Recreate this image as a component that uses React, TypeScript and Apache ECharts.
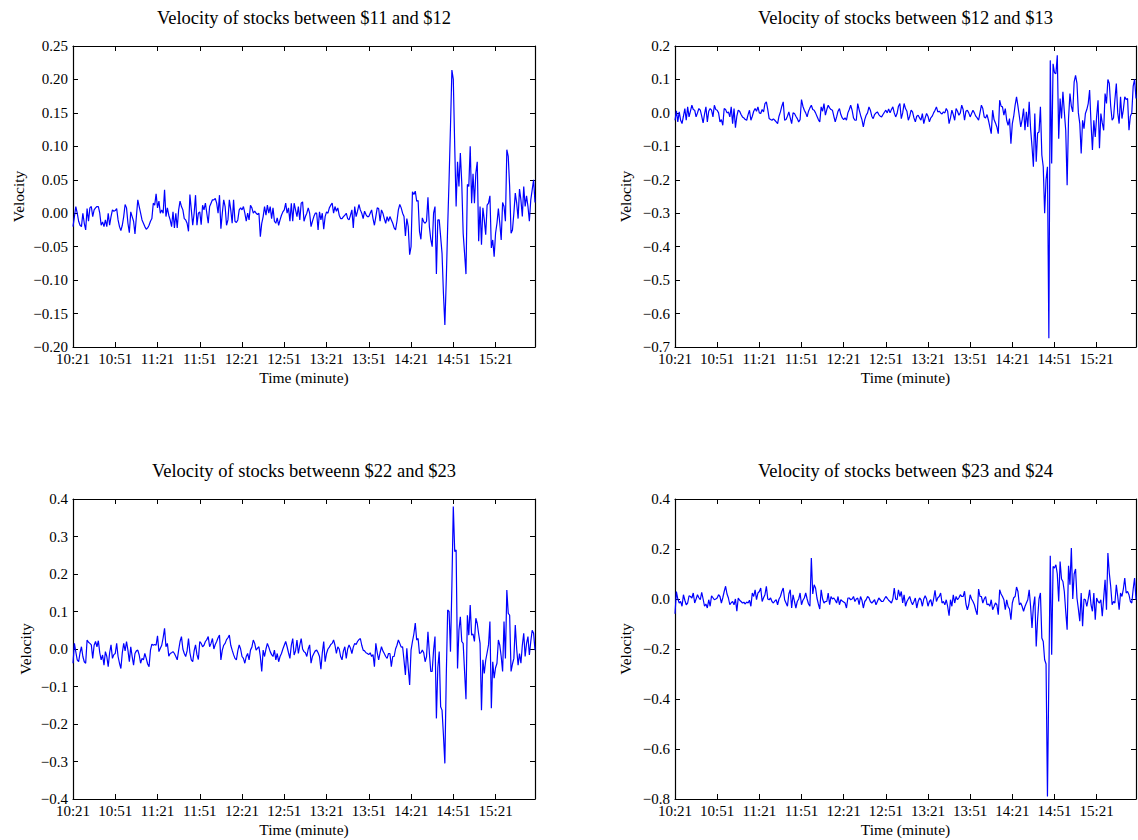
import React, { useEffect, useRef } from "react";
import * as echarts from "echarts";

// Minute-by-minute velocity readings, starting at 10:21.
const timeTicks = ["10:21", "10:51", "11:21", "11:51", "12:21", "12:51", "13:21", "13:51", "14:21", "14:51", "15:21"];
const minutesPerTick = 30;

const velocity11to12 = [
  -0.02, -0.005, 0.01, 0.0, -0.012, -0.018, -0.02, 0.0, -0.015, -0.025,
  0.007, -0.012, 0.008, 0.01, -0.005, 0.005, 0.008, 0.01, 0.01, 0.0,
  -0.018, -0.013, -0.02, -0.01, -0.02, 0.0, -0.018, -0.005, 0.005, 0.003,
  0.004, 0.007, -0.01, -0.02, -0.026, -0.018, -0.005, 0.013, 0.008, -0.015,
  -0.029, 0.002, -0.005, -0.012, -0.031, -0.005, 0.02, 0.01, 0.0, -0.01,
  -0.015, -0.02, -0.024, -0.022, -0.018, -0.012, -0.008, 0.015, 0.012, 0.029,
  0.008, 0.018, 0.0, 0.005, 0.0, 0.035, -0.005, 0.008, -0.003, -0.01,
  -0.02, 0.002, -0.022, 0.0, -0.022, 0.005, 0.018, 0.01, 0.005, -0.008,
  -0.01, -0.015, -0.027, 0.028, 0.005, -0.018, 0.0, 0.027, -0.018, 0.0,
  0.002, -0.017, 0.012, 0.005, 0.015, 0.0, -0.015, 0.01, 0.015, 0.02,
  0.02, 0.022, 0.015, 0.0, 0.027, -0.023, 0.0, 0.02, 0.01, -0.018,
  -0.01, 0.02, 0.005, -0.015, 0.02, -0.012, -0.014, -0.01, 0.005, 0.008,
  0.005, 0.01, 0.0, -0.012, 0.0, -0.01, 0.012, 0.008, 0.0, 0.003,
  0.0, -0.002, 0.0, -0.035, -0.015, -0.005, 0.01, -0.003, 0.012, 0.0,
  0.01, -0.008, 0.008, -0.012, -0.015, -0.007, -0.018, -0.01, -0.003, 0.002,
  0.005, 0.015, 0.0, 0.008, -0.012, 0.015, -0.012, 0.015, 0.005, -0.005,
  0.01, -0.01, 0.015, 0.017, -0.012, -0.005, 0.0, 0.008, 0.0, -0.02,
  -0.012, -0.005, 0.0, 0.0, -0.025, 0.002, -0.01, 0.0, -0.024, -0.005,
  0.002, 0.0, 0.008, 0.012, 0.015, 0.0, 0.01, 0.003, 0.008, -0.003,
  -0.008, -0.008, -0.005, -0.003, 0.0, -0.008, -0.01, -0.003, 0.005, -0.022,
  0.01, -0.005, 0.003, 0.013, 0.005, 0.0, -0.008, 0.003, -0.002, -0.005,
  -0.005, 0.0, 0.005, -0.008, -0.018, -0.005, 0.008, 0.007, -0.012, 0.005,
  0.0, -0.008, -0.015, -0.005, -0.012, -0.005, -0.01, -0.015, -0.022, -0.025,
  -0.012, 0.005, 0.013, 0.008, 0.0, -0.005, -0.034, -0.008, -0.02, -0.062,
  -0.05, 0.032, 0.028, 0.033, 0.018, 0.019, -0.027, -0.039, -0.007, -0.013,
  -0.015, -0.012, 0.024, -0.02, -0.039, -0.05, 0.0, 0.01, -0.091, -0.01,
  -0.01, -0.035, -0.06, -0.12, -0.167, -0.1, -0.02, 0.05, 0.13, 0.214,
  0.2, 0.1, 0.01, 0.077, 0.04, 0.09, 0.045, -0.03, -0.06, -0.091,
  0.043, 0.04, 0.1, 0.015, 0.059, 0.015, 0.06, 0.077, -0.042, 0.01,
  -0.047, 0.008, -0.01, -0.032, 0.012, 0.015, 0.026, -0.052, -0.04, -0.065,
  -0.03, -0.015, 0.007, -0.015, -0.04, 0.016, 0.01, -0.012, 0.095, 0.085,
  0.04, -0.03, -0.025, 0.0, 0.03, 0.015, -0.008, 0.036, 0.02, -0.005,
  0.04, 0.01, 0.026, 0.01, -0.012, 0.02, 0.035, 0.05, 0.016,
];

const velocity12to13 = [
  -0.022, 0.006, -0.027, 0.003, -0.022, -0.032, -0.01, 0.013, -0.022, 0.018,
  -0.012, 0.005, 0.023, 0.01, 0.008, -0.012, 0.0, 0.013, 0.008, -0.01,
  -0.03, -0.004, 0.018, -0.027, 0.005, 0.013, 0.008, -0.012, 0.023, 0.01,
  0.008, 0.0, -0.027, -0.02, -0.037, 0.013, 0.01, 0.0, 0.003, -0.012,
  0.018, -0.032, 0.013, -0.044, -0.01, 0.008, 0.005, -0.005, -0.012, -0.015,
  -0.02, -0.022, -0.005, 0.008, -0.022, -0.01, 0.005, 0.013, 0.005, 0.018,
  0.0, -0.002, 0.01, 0.003, 0.028, 0.033, 0.01, -0.017, -0.02, -0.022,
  -0.018, -0.022, -0.027, -0.032, -0.01, 0.003, 0.02, 0.033, -0.022, -0.02,
  -0.01, 0.003, -0.015, -0.032, 0.0, -0.002, -0.01, -0.017, -0.027, -0.02,
  0.04, 0.02, 0.008, 0.0, -0.012, 0.005, 0.015, 0.023, 0.01, 0.008,
  0.0, -0.01, -0.02, -0.027, 0.018, 0.005, 0.028, -0.007, 0.01, 0.023,
  0.015, 0.01, 0.008, -0.01, -0.027, -0.012, 0.005, 0.013, -0.005, -0.015,
  -0.02, -0.015, -0.022, 0.0, 0.01, 0.023, 0.008, -0.015, -0.022, -0.022,
  0.028, 0.01, -0.007, -0.02, -0.042, -0.02, -0.007, 0.0, 0.018, 0.008,
  -0.01, -0.017, -0.005, 0.0, 0.003, -0.005, -0.01, -0.012, -0.005, 0.002,
  0.008, 0.0, 0.012, 0.0, 0.01, 0.018, 0.0, -0.012, -0.002, 0.02,
  0.028, -0.017, 0.0, 0.028, 0.013, 0.005, -0.022, -0.01, 0.008, 0.003,
  -0.015, -0.027, -0.01, -0.007, -0.015, -0.022, -0.002, -0.032, -0.015, -0.002,
  -0.01, -0.027, -0.015, -0.01, 0.0, 0.008, 0.018, 0.003, 0.005, 0.0,
  -0.003, 0.003, 0.0, 0.013, 0.005, -0.032, -0.015, 0.008, -0.005, -0.022,
  0.013, 0.005, -0.007, 0.0, 0.023, 0.01, -0.022, 0.005, 0.008, 0.0,
  -0.012, -0.002, 0.008, 0.0, -0.01, -0.015, -0.022, 0.0, 0.023, 0.013,
  -0.012, -0.015, -0.005, -0.022, -0.042, -0.062, 0.008, -0.02, -0.03, -0.042,
  -0.062, 0.038, 0.02, 0.018, -0.007, 0.013, -0.022, -0.037, -0.017, -0.092,
  -0.032, -0.01, 0.023, 0.048, 0.02, -0.01, -0.042, -0.02, 0.013, -0.052,
  0.003, -0.042, 0.033, -0.047, -0.1, -0.161, -0.002, -0.146, -0.06, -0.057,
  0.018, -0.126, -0.161, -0.3, -0.2, -0.161, -0.674, 0.157, -0.151, 0.147,
  0.12, 0.117, 0.172, -0.077, 0.043, -0.017, 0.063, 0.003, -0.052, -0.216,
  -0.017, 0.058, 0.02, 0.003, 0.093, 0.112, 0.088, 0.0, -0.032, -0.121,
  -0.022, -0.047, -0.002, 0.01, 0.028, 0.068, -0.032, -0.111, -0.022, -0.072,
  -0.01, 0.038, -0.106, -0.002, -0.03, -0.052, 0.058, 0.028, 0.1, 0.088,
  0.02, -0.022, -0.015, 0.04, 0.088, 0.0, -0.032, 0.048, -0.017, 0.01,
  0.048, 0.04, 0.043, -0.052, -0.01, 0.0, 0.08, 0.1, 0.043,
];

const velocity22to23 = [
  -0.038, 0.015, -0.008, -0.029, -0.034, -0.01, 0.006, -0.02, -0.034, -0.038,
  0.024, 0.018, 0.015, 0.011, -0.025, 0.01, 0.02, 0.006, 0.022, -0.01,
  -0.029, -0.016, -0.043, -0.007, -0.02, -0.047, -0.01, 0.011, -0.025, -0.015,
  -0.012, 0.015, -0.02, -0.038, -0.052, -0.01, 0.015, -0.005, 0.02, -0.003,
  -0.034, 0.006, -0.02, -0.043, -0.012, -0.005, -0.003, -0.016, -0.038, -0.025,
  -0.029, -0.012, -0.025, -0.04, -0.047, -0.003, 0.013, 0.01, 0.012, 0.01,
  0.035, -0.007, 0.002, 0.01, 0.03, 0.055, 0.006, 0.015, -0.019, -0.012,
  -0.01, -0.007, -0.012, -0.02, -0.029, -0.003, 0.02, 0.033, 0.0, -0.012,
  -0.02, -0.005, 0.028, -0.01, -0.029, -0.034, -0.005, 0.011, -0.015, -0.028,
  0.02, 0.015, 0.006, 0.01, 0.02, 0.025, 0.033, 0.006, 0.015, 0.028,
  0.0, 0.012, 0.02, 0.03, 0.037, -0.029, -0.003, 0.01, 0.015, 0.025,
  0.03, 0.037, 0.01, -0.003, -0.015, -0.025, -0.029, -0.005, 0.011, 0.0,
  -0.02, -0.025, -0.038, -0.02, -0.012, -0.029, -0.003, 0.005, 0.024, 0.015,
  -0.003, 0.002, 0.006, -0.02, -0.06, -0.003, -0.02, 0.0, 0.015, 0.005,
  -0.007, -0.015, -0.02, -0.003, -0.029, -0.012, -0.034, -0.02, -0.012, 0.0,
  0.01, 0.02, 0.006, -0.01, -0.025, 0.01, 0.028, -0.016, -0.005, 0.024,
  -0.012, 0.01, 0.028, 0.0, -0.007, -0.01, -0.02, 0.0, 0.011, -0.038,
  -0.02, -0.012, -0.005, -0.003, -0.01, -0.02, -0.054, -0.01, 0.02, -0.034,
  -0.012, 0.0, 0.005, 0.012, 0.015, 0.024, 0.01, -0.012, 0.006, 0.0,
  -0.02, -0.029, -0.005, 0.006, -0.025, 0.0, 0.011, 0.002, -0.012, 0.005,
  0.015, 0.012, 0.02, 0.025, 0.028, 0.01, -0.003, -0.005, -0.01, -0.012,
  -0.015, -0.01, -0.02, -0.015, -0.047, 0.015, -0.01, -0.029, -0.01, 0.006,
  -0.005, -0.012, -0.02, -0.025, -0.012, -0.012, -0.047, -0.02, -0.02, 0.0,
  0.01, 0.024, 0.015, 0.005, 0.006, -0.03, -0.069, 0.002, -0.05, -0.096,
  -0.003, 0.02, 0.04, 0.069, 0.024, 0.028, -0.012, -0.01, -0.003, -0.01,
  -0.034, -0.02, 0.046, -0.01, -0.06, -0.06, -0.003, 0.033, -0.185, -0.05,
  -0.007, -0.154, -0.163, -0.23, -0.305, -0.074, 0.104, 0.1, -0.007, 0.17,
  0.38, 0.26, 0.264, -0.052, 0.05, 0.086, 0.02, 0.015, -0.06, -0.134,
  0.09, 0.037, 0.117, 0.037, 0.04, 0.02, 0.082, 0.068, 0.04, 0.015,
  -0.163, -0.029, -0.065, -0.03, -0.01, 0.011, 0.073, -0.158, -0.034, -0.078,
  -0.05, -0.038, 0.024, 0.01, -0.02, -0.06, 0.073, -0.025, 0.157, 0.095,
  0.09, -0.06, -0.04, -0.025, 0.064, 0.0, -0.043, -0.012, -0.038, 0.01,
  0.042, -0.02, 0.015, 0.033, -0.016, 0.02, 0.05, 0.042, -0.003,
];

const velocity23to24 = [
  -0.059, 0.03, 0.0, -0.016, -0.01, -0.029, 0.017, -0.005, -0.023, -0.016,
  0.013, 0.01, 0.004, 0.024, -0.016, 0.0, 0.017, 0.005, -0.003, 0.027,
  0.0, -0.029, -0.02, -0.036, -0.003, -0.029, 0.013, 0.005, -0.003, 0.0,
  0.004, 0.017, 0.01, -0.016, 0.005, 0.03, 0.051, 0.02, 0.004, -0.023,
  -0.015, -0.01, -0.023, 0.0, -0.049, 0.004, -0.005, -0.01, -0.016, -0.013,
  -0.02, -0.012, -0.016, -0.005, -0.029, 0.024, 0.01, 0.037, -0.003, 0.024,
  0.03, 0.044, -0.01, 0.005, 0.017, 0.051, 0.0, -0.003, 0.004, -0.01,
  -0.016, -0.008, -0.003, -0.023, 0.0, 0.01, 0.03, 0.044, -0.003, -0.016,
  -0.029, 0.02, 0.037, -0.036, 0.017, -0.01, -0.036, -0.01, 0.0, 0.024,
  -0.023, -0.005, 0.004, 0.024, 0.0, -0.02, -0.029, 0.164, 0.02, 0.057,
  0.044, 0.004, -0.02, -0.04, 0.037, 0.0, -0.016, -0.01, -0.01, 0.024,
  -0.023, 0.01, 0.0, 0.004, -0.005, -0.016, 0.01, -0.023, -0.003, -0.008,
  -0.012, -0.016, -0.036, 0.004, 0.004, -0.003, 0.0, 0.01, -0.01, 0.0,
  0.004, -0.023, 0.01, -0.005, -0.036, -0.01, -0.003, 0.01, 0.005, -0.01,
  -0.016, -0.01, -0.003, -0.023, -0.01, 0.004, -0.003, -0.01, -0.01, 0.0,
  0.01, 0.003, -0.005, -0.01, -0.016, 0.0, 0.044, 0.0, -0.003, 0.037,
  0.01, 0.03, -0.016, 0.017, -0.029, -0.01, 0.0, 0.01, -0.01, -0.023,
  -0.01, 0.004, -0.036, -0.01, 0.004, -0.003, -0.029, 0.0, 0.013, 0.0,
  -0.029, -0.01, -0.003, -0.029, 0.0, 0.035, -0.01, 0.005, 0.01, 0.024,
  -0.016, -0.01, -0.023, -0.003, -0.03, -0.067, -0.003, -0.029, 0.017, -0.016,
  0.01, -0.003, 0.005, 0.017, 0.01, 0.01, 0.031, -0.02, -0.043, -0.023,
  0.017, 0.0, -0.01, -0.023, -0.045, -0.063, 0.04, 0.01, 0.01, -0.016,
  0.0, 0.01, -0.023, -0.02, -0.029, -0.003, -0.043, -0.03, -0.016, -0.023,
  -0.063, 0.037, 0.02, 0.01, -0.003, -0.043, -0.003, -0.03, -0.04, -0.083,
  -0.016, 0.005, 0.01, 0.048, 0.03, -0.023, -0.016, -0.03, -0.049, -0.03,
  -0.016, -0.003, 0.037, -0.03, -0.116, -0.03, 0.01, -0.19, -0.08, 0.0,
  0.024, -0.156, -0.17, -0.243, -0.26, -0.79, -0.31, 0.173, -0.223, 0.13,
  0.124, 0.137, 0.1, -0.01, 0.15, 0.08, 0.07, 0.03, -0.05, -0.123,
  0.133, 0.057, 0.204, 0.0, 0.1, 0.12, 0.004, -0.04, -0.089, 0.024,
  -0.109, 0.0, -0.003, -0.03, 0.0, 0.037, -0.023, -0.049, 0.024, -0.083,
  0.004, -0.01, -0.016, -0.003, -0.069, 0.004, 0.077, -0.043, 0.184, 0.104,
  0.05, -0.023, -0.01, -0.016, 0.057, 0.01, -0.043, 0.024, 0.01, 0.04,
  0.084, 0.024, 0.03, 0.017, -0.01, -0.016, 0.04, 0.084, -0.003,
];

const panelTitles = [
  "Velocity of stocks between $11 and $12",
  "Velocity of stocks between $12 and $13",
  "Velocity of stocks betweenn $22 and $23",
  "Velocity of stocks between $23 and $24",
];
const panelSeries = [velocity11to12, velocity12to13, velocity22to23, velocity23to24];
// [min, max, step, decimals] of each velocity axis
const velocityScales = [
  [-0.2, 0.25, 0.05, 2],
  [-0.7, 0.2, 0.1, 1],
  [-0.4, 0.4, 0.1, 1],
  [-0.8, 0.4, 0.2, 1],
];

// Layout of the 2x2 grid of panels (pixels).
const grids = [
  { left: 73, top: 46, width: 462, height: 301 },
  { left: 675, top: 46, width: 461, height: 301 },
  { left: 73, top: 499, width: 462, height: 300 },
  { left: 675, top: 499, width: 461, height: 300 },
];
const velocityNameGaps = [47, 42, 40, 42];
const titleRows = [18, 471];

const FONT = "'Liberation Serif', 'Times New Roman', serif";
const INK = "#000000";
const LINE_BLUE = "#0000ff";

// Tick numbers use a true minus sign.
const fmtNumber = (v: number, digits: number) => {
  const s = Math.abs(v) < 1e-9 ? (0).toFixed(digits) : v.toFixed(digits);
  return s.replace("-", "\u2212");
};

export default function App() {
  const ref = useRef<HTMLDivElement>(null);

  useEffect(() => {
    if (!ref.current) return;
    const chart = echarts.init(ref.current, undefined, { renderer: "svg" });

    const xAxes: any[] = [];
    const yAxes: any[] = [];
    const series: any[] = [];
    const graphics: any[] = [];

    panelSeries.forEach((values, i) => {
      const last = values.length - 1;
      const [yMin, yMax, yStep, digits] = velocityScales[i];
      const common = {
        gridIndex: i,
        axisLine: { show: true, onZero: false, lineStyle: { color: INK, width: 1.2 } },
        axisTick: { show: true, inside: true, length: 5, lineStyle: { color: INK, width: 1 } },
        splitLine: { show: false },
      };
      xAxes.push({
        ...common,
        type: "value",
        position: "bottom",
        min: 0,
        max: last,
        interval: minutesPerTick,
        axisLabel: {
          color: INK,
          fontFamily: FONT,
          fontSize: 15,
          margin: 4,
          showMaxLabel: false,
          formatter: (v: number) =>
            v % minutesPerTick === 0 ? timeTicks[v / minutesPerTick] ?? "" : "",
        },
        name: "Time (minute)",
        nameLocation: "middle",
        nameGap: 22,
        nameTextStyle: { color: INK, fontFamily: FONT, fontSize: 15.5 },
      });
      xAxes.push({
        ...common,
        type: "value",
        position: "top",
        min: 0,
        max: last,
        interval: minutesPerTick,
        axisLabel: { show: false },
      });
      yAxes.push({
        ...common,
        type: "value",
        position: "left",
        min: yMin,
        max: yMax,
        interval: yStep,
        axisLabel: {
          color: INK,
          fontFamily: FONT,
          fontSize: 15,
          margin: 5,
          formatter: (v: number) => fmtNumber(v, digits),
        },
        name: "Velocity",
        nameLocation: "middle",
        nameRotate: 90,
        nameGap: velocityNameGaps[i],
        nameTextStyle: { color: INK, fontFamily: FONT, fontSize: 15.5 },
      });
      yAxes.push({
        ...common,
        type: "value",
        position: "right",
        min: yMin,
        max: yMax,
        interval: yStep,
        axisLabel: { show: false },
      });
      series.push({
        type: "line",
        xAxisIndex: 2 * i,
        yAxisIndex: 2 * i,
        data: values.map((v, m) => [m, v]),
        showSymbol: false,
        symbol: "none",
        clip: true,
        lineStyle: { color: LINE_BLUE, width: 1.2 },
      });
      const g = grids[i];
      graphics.push({
        type: "text",
        x: g.left + g.width / 2,
        y: titleRows[Math.floor(i / 2)],
        style: {
          text: panelTitles[i],
          fill: INK,
          font: `18.5px ${FONT}`,
          textAlign: "center",
          textVerticalAlign: "middle",
        },
      });
    });

    chart.setOption({
      animation: false,
      backgroundColor: "#ffffff",
      grid: grids.map((g) => ({ ...g, containLabel: false })),
      xAxis: xAxes,
      yAxis: yAxes,
      series,
      graphic: graphics,
    });

    return () => chart.dispose();
  }, []);

  return (
    <div
      ref={ref}
      style={{ position: "fixed", left: 0, top: 0, width: 1138, height: 840, background: "#ffffff" }}
    />
  );
}
